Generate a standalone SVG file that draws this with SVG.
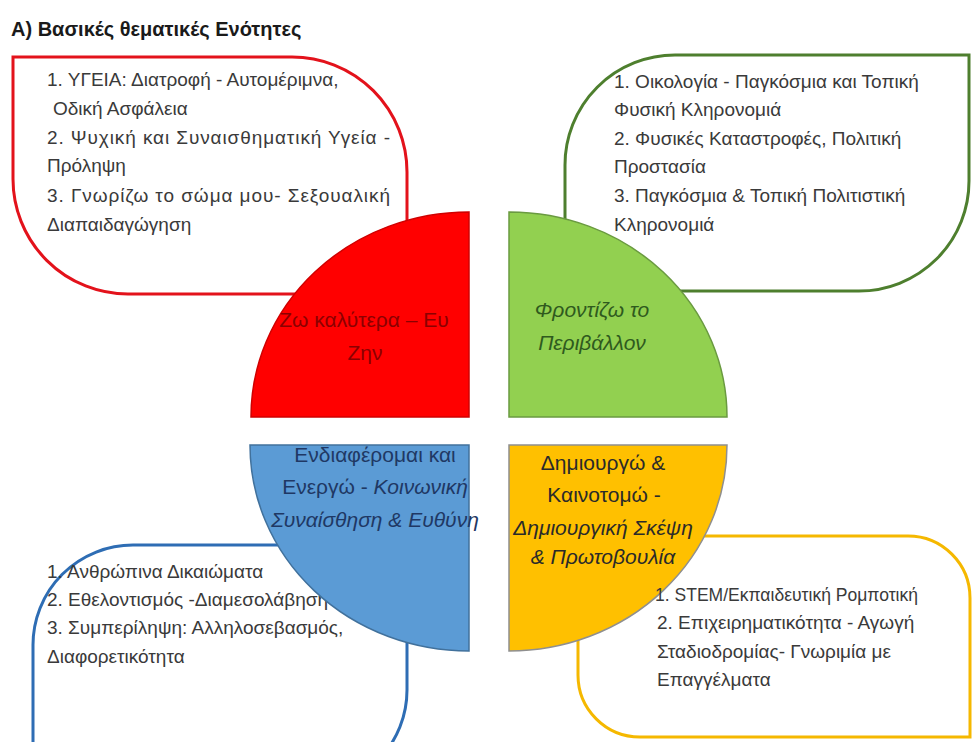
<svg xmlns="http://www.w3.org/2000/svg" width="972" height="742" viewBox="0 0 972 742">
<style>
.box{fill:#fff;stroke-width:3}
.bt{font-family:"Liberation Sans",Arial,sans-serif;font-size:19px;fill:#3a3a3a}
.qt{font-family:"Liberation Sans",Arial,sans-serif;font-size:21px;text-anchor:middle}
.it{font-style:italic}
.title{font-family:"Liberation Sans",Arial,sans-serif;font-size:20px;font-weight:bold;fill:#1a1a1a}
</style>
<rect width="972" height="742" fill="#fff"/>
<g id="title"><text class="title" x="11" y="36">Α) Βασικές θεματικές Ενότητες</text></g>

<g id="box-health">
<path class="box" stroke="#E3121B" d="M13,57 H292 A115,115 0 0 1 407,172 V294 H128 A115,115 0 0 1 13,179 Z"/>
</g>
<g id="box-environment">
<path class="box" stroke="#4E7F2E" d="M565,165 A110,110 0 0 1 675,55 H969 V181 A110,110 0 0 1 859,291 H565 Z"/>
</g>
<g id="box-social">
<path class="box" stroke="#2E6DB4" d="M33,790 V645 A100,100 0 0 1 133,545 H407 V690 A100,100 0 0 1 307,790 Z"/>
</g>
<g id="box-innovation">
<path class="box" stroke="#F5B800" d="M578,536 H908 A62,62 0 0 1 970,598 V737 H640 A62,62 0 0 1 578,675 Z"/>
</g>

<g id="text-social">
<text class="bt" x="47" y="578">1. Ανθρώπινα Δικαιώματα</text>
<text class="bt" x="47" y="606">2. Εθελοντισμός  -Διαμεσολάβηση</text>
<text class="bt" x="47" y="634">3. Συμπερίληψη: Αλληλοσεβασμός,</text>
<text class="bt" x="47" y="663">Διαφορετικότητα</text>
</g>

<g id="quad-health"><path fill="#FF0000" stroke="#D00000" stroke-width="1.5" d="M469,417 V212 A218,205 0 0 0 251,417 Z"/></g>
<g id="quad-environment"><path fill="#92D050" stroke="#6A9A40" stroke-width="1.5" d="M509,417 V212 A218,205 0 0 1 727,417 Z"/></g>
<g id="quad-social"><path fill="#5B9BD5" stroke="#41719C" stroke-width="1.5" d="M469,445 H250 A219,206 0 0 0 469,651 Z"/></g>
<g id="quad-innovation"><path fill="#FFC000" stroke="#8F8F8F" stroke-width="1.5" d="M509,445 H727 A218,206 0 0 1 509,651 Z"/></g>

<g id="text-health">
<text class="bt" x="47" y="86">1. ΥΓΕΙΑ: Διατροφή - Αυτομέριμνα,</text>
<text class="bt" x="53" y="115">Οδική Ασφάλεια</text>
<text class="bt" x="47" y="144" textLength="343" lengthAdjust="spacing">2. Ψυχική και Συναισθηματική Υγεία -</text>
<text class="bt" x="47" y="172">Πρόληψη</text>
<text class="bt" x="47" y="202" textLength="343" lengthAdjust="spacing">3. Γνωρίζω το σώμα μου- Σεξουαλική</text>
<text class="bt" x="47" y="231">Διαπαιδαγώγηση</text>
</g>
<g id="text-environment">
<text class="bt" x="614" y="88">1. Οικολογία - Παγκόσμια και Τοπική</text>
<text class="bt" x="614" y="116">Φυσική Κληρονομιά</text>
<text class="bt" x="614" y="145">2. Φυσικές Καταστροφές, Πολιτική</text>
<text class="bt" x="614" y="173">Προστασία</text>
<text class="bt" x="614" y="202">3. Παγκόσμια &amp; Τοπική Πολιτιστική</text>
<text class="bt" x="614" y="231">Κληρονομιά</text>
</g>
<g id="text-innovation">
<text class="bt" x="655" y="601" textLength="263" lengthAdjust="spacingAndGlyphs">1. STEM/Εκπαιδευτική Ρομποτική</text>
<text class="bt" x="657" y="629">2. Επιχειρηματικότητα - Αγωγή</text>
<text class="bt" x="657" y="658">Σταδιοδρομίας- Γνωριμία με</text>
<text class="bt" x="657" y="686">Επαγγέλματα</text>
</g>

<g id="label-health" fill="#8B0000">
<text class="qt" x="364" y="327">Ζω καλύτερα – Ευ</text>
<text class="qt" x="365" y="360">Ζην</text>
</g>
<g id="label-environment" fill="#2F5A1E">
<text class="qt it" x="592" y="317">Φροντίζω το</text>
<text class="qt it" x="592" y="350">Περιβάλλον</text>
</g>
<g id="label-social" fill="#1F3864">
<text class="qt" x="375" y="462">Ενδιαφέρομαι και</text>
<text class="qt" x="375" y="494">Ενεργώ - <tspan class="it">Κοινωνική</tspan></text>
<text class="qt it" x="375" y="527">Συναίσθηση &amp; Ευθύνη</text>
</g>
<g id="label-innovation" fill="#2A2A2A">
<text class="qt" x="603" y="470">Δημιουργώ &amp;</text>
<text class="qt" x="604" y="502">Καινοτομώ -</text>
<text class="qt it" x="603" y="535">Δημιουργική Σκέψη</text>
<text class="qt it" x="603" y="564">&amp; Πρωτοβουλία</text>
</g>
<g id="connectors"/>
</svg>
